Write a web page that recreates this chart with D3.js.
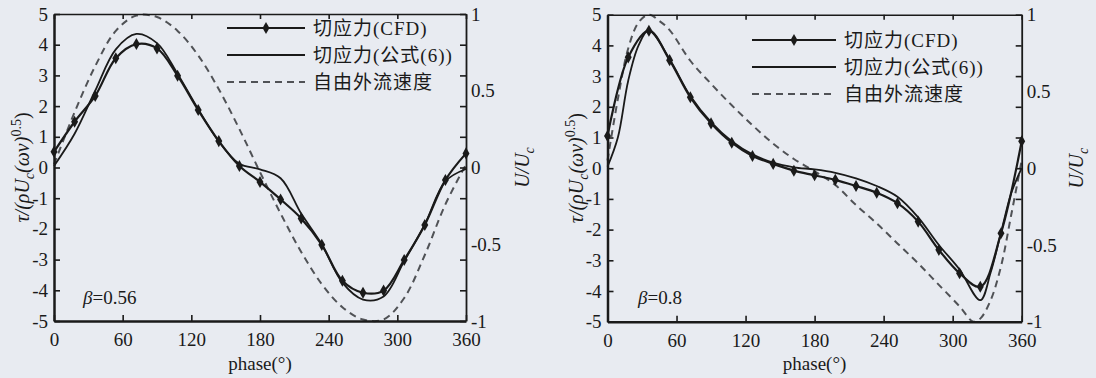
<!DOCTYPE html>
<html>
<head>
<meta charset="utf-8">
<script src="https://cdn.jsdelivr.net/npm/d3@7"></script>
<style>
body { margin: 0; background: #e8ebf1; }
svg text { fill: #1a1a1a; font-family: "Liberation Serif", "Times New Roman", "DejaVu Serif", "Noto Sans CJK SC", serif; }
</style>
</head>
<body>
<div id="chart"></div>
<script>
// Phase grid of the CFD markers (every 18 degrees)
var phaseGrid = [0, 18, 36, 54, 72, 90, 108, 126, 144, 162, 180, 198, 216, 234, 252, 270, 288, 306, 324, 342, 360];

// beta = 0.56
var cfd056 = [0.51, 1.49, 2.33, 3.56, 4.02, 3.88, 2.99, 1.87, 0.86, 0.05, -0.47, -1.04, -1.66, -2.52, -3.69, -4.08, -4.01, -3.01, -1.87, -0.41, 0.46];
var eq056 = [0.05, 1.1, 2.5, 3.85, 4.35, 4.05, 3.05, 1.9, 0.85, 0.12, -0.06, -0.35, -1.5, -2.5, -3.75, -4.3, -4.2, -3.05, -1.85, -0.45, -0.05];
var u056 = [0.02, 0.36, 0.66, 0.89, 0.99, 0.98, 0.89, 0.73, 0.51, 0.25, -0.03, -0.3, -0.55, -0.76, -0.91, -0.99, -0.99, -0.85, -0.57, -0.24, 0.02];

// beta = 0.8
var cfd08 = [1.05, 3.61, 4.48, 3.52, 2.31, 1.46, 0.83, 0.40, 0.14, -0.08, -0.23, -0.38, -0.58, -0.80, -1.14, -1.74, -2.66, -3.42, -3.86, -2.12, 0.88];
var eqPhase08 = [0, 9, 18, 27, 36, 54, 72, 90, 108, 126, 144, 162, 180, 198, 216, 234, 252, 270, 288, 306, 324, 333, 342, 351, 360];
var eq08 = [0.05, 1.0, 2.85, 4.0, 4.5, 3.55, 2.35, 1.5, 0.88, 0.45, 0.18, 0.03, -0.04, -0.15, -0.33, -0.58, -0.93, -1.6, -2.5, -3.3, -4.3, -3.4, -2.1, -0.8, 0.0];
var uPhase08 = [0, 9, 18, 27, 36, 45, 54, 72, 90, 108, 126, 144, 162, 180, 198, 216, 234, 252, 270, 288, 306, 318, 324, 333, 342, 351, 360];
var u08 = [0.05, 0.45, 0.78, 0.95, 1.0, 0.96, 0.9, 0.70, 0.55, 0.41, 0.28, 0.16, 0.06, -0.02, -0.11, -0.24, -0.36, -0.49, -0.62, -0.76, -0.90, -1.0, -0.98, -0.86, -0.64, -0.3, 0.05];

// Axis ticks and labels
var xTicks = [0, 60, 120, 180, 240, 300, 360];
var yTicks = [-5, -4, -3, -2, -1, 0, 1, 2, 3, 4, 5];
var rTicks = [-1, -0.8, -0.6, -0.4, -0.2, 0, 0.2, 0.4, 0.6, 0.8, 1];
var rLabels = [-1, -0.5, 0, 0.5, 1];
var legendLabels = ['切应力(CFD)', '切应力(公式(6))', '自由外流速度'];

var W = 1096, H = 378;
var svg = d3.select('#chart').append('svg')
	.attr('width', W)
	.attr('height', H);

svg.append('rect').attr('width', W).attr('height', H).attr('fill', '#e8ebf1');

var panels = [
	{ x0: 54, x1: 466, y0: 321, y1: 14, cfd: cfd056, eqPhase: phaseGrid, eq: eq056, uPhase: phaseGrid, u: u056,
	  beta: '0.56', betaX: 83, legX: 227, legY: 28, yTitleX: 22, rTitleX: 522 },
	{ x0: 607.5, x1: 1021.7, y0: 321.7, y1: 14.7, cfd: cfd08, eqPhase: eqPhase08, eq: eq08, uPhase: uPhase08, u: u08,
	  beta: '0.8', betaX: 638, legX: 752, legY: 40, yTitleX: 576, rTitleX: 1076 }
];

panels.forEach(drawPanel);

function drawPanel(p) {
	var x = d3.scaleLinear().domain([0, 360]).range([p.x0, p.x1]);
	var y = d3.scaleLinear().domain([-5, 5]).range([p.y0, p.y1]);
	var yR = d3.scaleLinear().domain([-1, 1]).range([p.y0, p.y1]);
	var g = svg.append('g');

	// Curves
	var lineL = d3.line().curve(d3.curveCatmullRom.alpha(0.5))
		.x(function(d) { return x(d[0]); })
		.y(function(d) { return y(d[1]); });
	var lineR = d3.line().curve(d3.curveCatmullRom.alpha(0.5))
		.x(function(d) { return x(d[0]); })
		.y(function(d) { return yR(d[1]); });

	g.append('path')
		.datum(d3.zip(p.uPhase, p.u))
		.attr('d', lineR)
		.attr('fill', 'none')
		.attr('stroke', '#505256')
		.attr('stroke-width', 2)
		.attr('stroke-dasharray', '7,5');

	g.append('path')
		.datum(d3.zip(p.eqPhase, p.eq))
		.attr('d', lineL)
		.attr('fill', 'none')
		.attr('stroke', '#1a1a1a')
		.attr('stroke-width', 1.8);

	g.append('path')
		.datum(d3.zip(phaseGrid, p.cfd))
		.attr('d', lineL)
		.attr('fill', 'none')
		.attr('stroke', '#1a1a1a')
		.attr('stroke-width', 2.2);

	var diamond = d3.symbol().type(d3.symbolDiamond).size(42);
	g.selectAll('.mk')
		.data(d3.zip(phaseGrid, p.cfd))
		.enter().append('path')
		.attr('class', 'mk')
		.attr('d', diamond)
		.attr('transform', function(d) { return 'translate(' + x(d[0]) + ',' + y(d[1]) + ')'; })
		.attr('fill', '#1a1a1a');

	// Axes (ticks pointing inward)
	var fontSize = '19px';
	var ax = g.append('g').attr('transform', 'translate(0,' + p.y0 + ')')
		.call(d3.axisBottom(x).tickValues(xTicks).tickSizeInner(-6).tickSizeOuter(0).tickPadding(12));
	ax.select('.domain').attr('stroke-width', 2.5);

	g.append('g').attr('transform', 'translate(0,' + p.y1 + ')')
		.call(d3.axisTop(x).tickValues(xTicks).tickSizeInner(-5).tickSizeOuter(0).tickFormat(''))
		.select('.domain').attr('stroke-width', 1.6);

	var ay = g.append('g').attr('transform', 'translate(' + p.x0 + ',0)')
		.call(d3.axisLeft(y).tickValues(yTicks).tickSizeInner(-6).tickSizeOuter(0).tickPadding(6)
			.tickFormat(function(d) { return String(d); }));
	ay.select('.domain').attr('stroke-width', 2.5);

	g.append('g').attr('transform', 'translate(' + p.x1 + ',0)')
		.call(d3.axisRight(yR).tickValues(rTicks).tickSizeInner(-6).tickSizeOuter(0).tickFormat(''))
		.select('.domain').attr('stroke-width', 1.8);

	var ar = g.append('g').attr('transform', 'translate(' + p.x1 + ',0)')
		.call(d3.axisRight(yR).tickValues(rLabels).tickSize(0).tickPadding(5)
			.tickFormat(function(d) { return String(d); }));
	ar.select('.domain').remove();

	g.selectAll('g').attr('font-family', null);
	g.selectAll('.tick line').attr('stroke', '#1a1a1a').attr('stroke-width', 1.6);
	g.selectAll('.domain').attr('stroke', '#1a1a1a');
	g.selectAll('.tick text')
		.attr('fill', '#1a1a1a')
		.style('font-size', fontSize);

	// Axis titles
	g.append('text')
		.attr('x', (p.x0 + p.x1) / 2)
		.attr('y', 370)
		.attr('text-anchor', 'middle')
		.style('font-size', fontSize)
		.text('phase(°)');

	var yt = g.append('text')
		.attr('transform', 'translate(' + p.yTitleX + ',' + (p.y0 + p.y1) / 2 + ') rotate(-90)')
		.attr('text-anchor', 'middle')
		.attr('dy', '0.35em')
		.style('font-size', '20px')
		.style('font-style', 'italic');
	yt.append('tspan').text('τ/(ρU');
	yt.append('tspan').attr('dy', 5).style('font-size', '14px').text('c');
	yt.append('tspan').attr('dy', -5).text('(ων)');
	yt.append('tspan').attr('dy', -8).style('font-size', '14px').style('font-style', 'normal').text('0.5');
	yt.append('tspan').attr('dy', 8).style('font-style', 'normal').text(')');

	var rt = g.append('text')
		.attr('transform', 'translate(' + p.rTitleX + ',' + (p.y0 + p.y1) / 2 + ') rotate(-90)')
		.attr('text-anchor', 'middle')
		.attr('dy', '0.35em')
		.style('font-size', '20px')
		.style('font-style', 'italic');
	rt.append('tspan').text('U/U');
	rt.append('tspan').attr('dy', 5).style('font-size', '14px').text('c');

	// beta label
	var bt = g.append('text')
		.attr('x', p.betaX)
		.attr('y', 297)
		.attr('dy', '0.35em')
		.style('font-size', fontSize);
	bt.append('tspan').style('font-style', 'italic').text('β');
	bt.append('tspan').text('=' + p.beta);

	// Legend
	var legLen = p === panels[0] ? 78 : 84;
	var leg = g.append('g').attr('transform', 'translate(' + p.legX + ',' + p.legY + ')');
	legendLabels.forEach(function(lab, i) {
		var row = leg.append('g').attr('transform', 'translate(0,' + (i * 27) + ')');
		var ln = row.append('line')
			.attr('x1', 0).attr('x2', legLen)
			.attr('stroke', i === 2 ? '#505256' : '#1a1a1a')
			.attr('stroke-width', i === 1 ? 1.8 : 2.2);
		if (i === 2) ln.attr('stroke-dasharray', '7,5');
		if (i === 0) {
			row.append('path').attr('d', diamond)
				.attr('transform', 'translate(' + legLen / 2 + ',0)')
				.attr('fill', '#1a1a1a');
		}
		row.append('text')
			.attr('x', legLen + 8)
			.attr('dy', '0.36em')
			.style('font-size', '19px')
			.style('letter-spacing', '1px')
			.text(lab);
	});
}
</script>
</body>
</html>
